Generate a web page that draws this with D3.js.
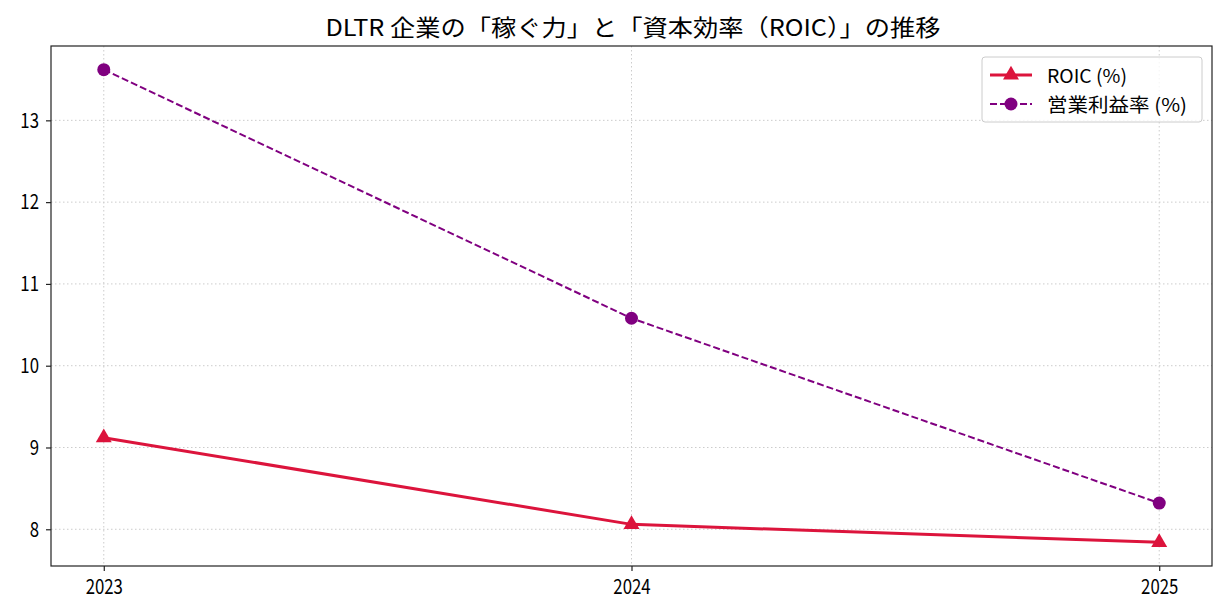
<!DOCTYPE html>
<html>
<head>
<meta charset="utf-8">
<script src="https://cdn.jsdelivr.net/npm/d3@7.8.5/dist/d3.min.js"></script>
<style>
  body { margin: 0; background: #fff; }
  svg text { font-family: "Noto Sans CJK JP", "DejaVu Sans", sans-serif; }
</style>
</head>
<body>
<div id="chart"></div>
<script>
const years = [2023, 2024, 2025];
const roic = [9.12, 8.06, 7.84];
const opMargin = [13.62, 10.58, 8.32];
const yTicks = [8, 9, 10, 11, 12, 13];
const titleText = "DLTR 企業の「稼ぐ力」と「資本効率（ROIC）」の推移";
const seriesNames = ["ROIC (%)", "営業利益率 (%)"];

const width = 1228, height = 616;
const margin = { top: 46, right: 16, bottom: 50, left: 51 };
const innerW = width - margin.left - margin.right;
const innerH = height - margin.top - margin.bottom;

const svg = d3.select("#chart").append("svg")
    .attr("width", width)
    .attr("height", height);

const g = svg.append("g").attr("transform", `translate(${margin.left},${margin.top})`);

// squeeze text to the narrow look of the original font
function squeeze(sel, ratio) {
    sel.each(function () {
        const w = this.getComputedTextLength();
        d3.select(this).attr("textLength", w * ratio).attr("lengthAdjust", "spacingAndGlyphs");
    });
}

// matplotlib-like 5% margins
const xPad = (years[2] - years[0]) * 0.05;
const x = d3.scaleLinear()
    .domain([years[0] - xPad, years[years.length - 1] + xPad])
    .range([0, innerW]);

const allVals = roic.concat(opMargin);
const yMin = d3.min(allVals), yMax = d3.max(allVals);
const yPad = (yMax - yMin) * 0.05;
const y = d3.scaleLinear()
    .domain([yMin - yPad, yMax + yPad])
    .range([innerH, 0]);

// grid
g.append("g").selectAll("line.gx").data(years).enter().append("line")
    .attr("x1", d => x(d)).attr("x2", d => x(d))
    .attr("y1", 0).attr("y2", innerH)
    .attr("stroke", "#cccccc").attr("stroke-width", 1)
    .attr("stroke-dasharray", "1.5,2.5");
g.append("g").selectAll("line.gy").data(yTicks).enter().append("line")
    .attr("x1", 0).attr("x2", innerW)
    .attr("y1", d => y(d)).attr("y2", d => y(d))
    .attr("stroke", "#cccccc").attr("stroke-width", 1)
    .attr("stroke-dasharray", "1.5,2.5");

// axes
const xAxis = g.append("g")
    .attr("transform", `translate(0,${innerH})`)
    .call(d3.axisBottom(x).tickValues(years).tickFormat(d3.format("d")).tickSize(5).tickPadding(8));
const yAxis = g.append("g")
    .call(d3.axisLeft(y).tickValues(yTicks).tickFormat(d3.format("d")).tickSize(5).tickPadding(7));
[xAxis, yAxis].forEach(a => {
    a.select(".domain").remove();
    a.selectAll(".tick line").attr("stroke", "#222").attr("stroke-width", 1.2);
    a.selectAll(".tick text").attr("fill", "#000").style("font-size", "21px");
    squeeze(a.selectAll(".tick text"), 0.8);
});

// frame
g.append("rect")
    .attr("width", innerW).attr("height", innerH)
    .attr("fill", "none").attr("stroke", "#222").attr("stroke-width", 1.2);

const line = d3.line().x((d, i) => x(years[i])).y(d => y(d));

// operating margin (dashed, purple)
g.append("path").datum(opMargin)
    .attr("d", line)
    .attr("fill", "none").attr("stroke", "#800080")
    .attr("stroke-width", 2).attr("stroke-dasharray", "7,3");
g.selectAll("circle.op").data(opMargin).enter().append("circle")
    .attr("cx", (d, i) => x(years[i])).attr("cy", d => y(d))
    .attr("r", 6.5).attr("fill", "#800080");

// ROIC (solid, crimson)
g.append("path").datum(roic)
    .attr("d", line)
    .attr("fill", "none").attr("stroke", "#DC143C")
    .attr("stroke-width", 3);
const tri = d3.symbol().type(d3.symbolTriangle).size(110);
g.selectAll("path.roic").data(roic).enter().append("path")
    .attr("transform", (d, i) => `translate(${x(years[i])},${y(d)})`)
    .attr("d", tri).attr("fill", "#DC143C");

// title
svg.append("text")
    .attr("x", 633).attr("y", 36)
    .attr("text-anchor", "middle")
    .style("font-size", "23px")
    .attr("textLength", 615).attr("lengthAdjust", "spacingAndGlyphs")
    .text(titleText);

// legend
const lg = svg.append("g").attr("transform", "translate(982,57)");
lg.append("rect")
    .attr("width", 220).attr("height", 65).attr("rx", 3)
    .attr("fill", "#fff").attr("fill-opacity", 0.8)
    .attr("stroke", "#cccccc");
const legendRows = [
    { name: seriesNames[0], color: "#DC143C", dash: null, width: 3, marker: "tri", len: 80 },
    { name: seriesNames[1], color: "#800080", dash: "7,3", width: 2, marker: "circle", len: 140 }
];
legendRows.forEach((r, i) => {
    const yy = 18 + i * 29;
    lg.append("line")
        .attr("x1", 8).attr("x2", 50).attr("y1", yy).attr("y2", yy)
        .attr("stroke", r.color).attr("stroke-width", r.width)
        .attr("stroke-dasharray", r.dash);
    if (r.marker === "tri") {
        lg.append("path").attr("transform", `translate(29,${yy})`).attr("d", tri).attr("fill", r.color);
    } else {
        lg.append("circle").attr("cx", 29).attr("cy", yy).attr("r", 6.5).attr("fill", r.color);
    }
    lg.append("text")
        .attr("x", 65).attr("y", yy + 8)
        .style("font-size", "19px")
        .attr("textLength", r.len).attr("lengthAdjust", "spacingAndGlyphs")
        .text(r.name);
});
</script>
</body>
</html>
